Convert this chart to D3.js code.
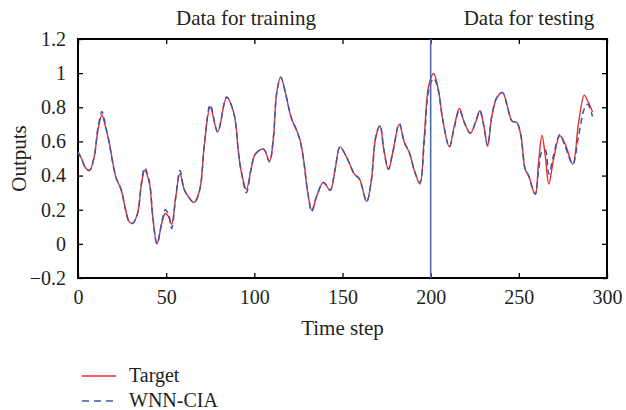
<!DOCTYPE html>
<html>
<head>
<meta charset="utf-8">
<script src="https://cdn.jsdelivr.net/npm/d3@7"></script>
<style>
  body { margin: 0; background: #fff; }
  text { font-family: "Liberation Serif", "Times New Roman", serif; fill: #231f20; }
</style>
</head>
<body>
<div id="chart"></div>
<script>
// time steps, shared by both series
const steps = [0, 2, 4, 6.5, 9, 11.5, 13.6, 15.5, 17.7, 21.5, 24.4, 27, 29, 31, 33.8, 36, 37.8, 40.4, 42.5, 44.8,
  47.6, 49.5, 51.4, 53.1, 55.5, 57.8, 60.2, 63, 65.9, 69.1, 71.6, 75, 79.2, 84.3, 88.5, 91, 92.5, 95.5, 98.2, 100.5,
  105.2, 108.6, 110.9, 112.7, 115, 117.8, 120.9, 124.1, 126, 127.9, 130.3, 132.6, 135.4, 139.2, 143, 145.8, 148.6, 152.4, 156.8, 159.6,
  163.7, 166.2, 169, 171.3, 173.4, 176, 178.5, 182.2, 185.1, 187.9, 190.8, 193.9, 196.4, 198.9, 201.7, 204.3, 206.8, 210.6, 213.4, 216.3,
  219.1, 222.5, 225.7, 227.9, 230, 232.3, 234.7, 237.6, 240.8, 243.2, 246.1, 248.9, 251.2, 253.6, 255.5, 259.3, 261.2, 263.1, 265, 267,
  269.7, 273.3, 276.3, 280.6, 283.9, 287.1, 289, 291.8];

const target = [0.53, 0.50, 0.45, 0.43, 0.50, 0.68, 0.755, 0.69, 0.594, 0.39, 0.32, 0.20, 0.13, 0.12, 0.18, 0.35, 0.43, 0.36, 0.15, 0.00,
  0.125, 0.178, 0.16, 0.115, 0.28, 0.41, 0.32, 0.27, 0.242, 0.32, 0.574, 0.80, 0.656, 0.857, 0.76, 0.535, 0.428, 0.32, 0.44, 0.525,
  0.555, 0.486, 0.633, 0.886, 0.978, 0.877, 0.74, 0.662, 0.603, 0.496, 0.30, 0.197, 0.28, 0.36, 0.314, 0.437, 0.568, 0.506, 0.408, 0.38,
  0.248, 0.36, 0.633, 0.69, 0.555, 0.437, 0.535, 0.70, 0.594, 0.535, 0.428, 0.35, 0.633, 0.926, 0.998, 0.906, 0.73, 0.568, 0.69, 0.793,
  0.71, 0.648, 0.72, 0.78, 0.70, 0.574, 0.75, 0.857, 0.886, 0.818, 0.72, 0.71, 0.633, 0.437, 0.40, 0.29, 0.476, 0.637, 0.515, 0.35,
  0.496, 0.633, 0.584, 0.467, 0.71, 0.871, 0.838, 0.773];

const wnnCia = [0.54, 0.50, 0.45, 0.43, 0.50, 0.69, 0.775, 0.70, 0.59, 0.39, 0.32, 0.20, 0.13, 0.12, 0.18, 0.36, 0.445, 0.37, 0.15, 0.00,
  0.13, 0.20, 0.17, 0.09, 0.28, 0.43, 0.32, 0.27, 0.242, 0.32, 0.574, 0.815, 0.656, 0.86, 0.76, 0.535, 0.428, 0.30, 0.44, 0.525,
  0.555, 0.48, 0.633, 0.886, 0.975, 0.877, 0.74, 0.662, 0.603, 0.496, 0.30, 0.19, 0.28, 0.36, 0.314, 0.437, 0.568, 0.506, 0.408, 0.38,
  0.248, 0.36, 0.633, 0.695, 0.555, 0.437, 0.535, 0.705, 0.594, 0.535, 0.428, 0.36, 0.60, 0.90, 0.97, 0.90, 0.73, 0.568, 0.68, 0.785,
  0.71, 0.648, 0.72, 0.78, 0.70, 0.574, 0.75, 0.86, 0.886, 0.818, 0.72, 0.71, 0.633, 0.437, 0.40, 0.29, 0.43, 0.54, 0.55, 0.41,
  0.52, 0.64, 0.57, 0.467, 0.633, 0.79, 0.818, 0.746];

const xTicks = [0, 50, 100, 150, 200, 250, 300];
const yTicks = [-0.2, 0, 0.2, 0.4, 0.6, 0.8, 1, 1.2];
const splitStep = 200;
const seriesNames = ["Target", "WNN-CIA"];

const W = 626, H = 410;
const margin = { top: 39, right: 19, bottom: 132, left: 78 };
const width = W - margin.left - margin.right;
const height = H - margin.top - margin.bottom;

const svg = d3.select("#chart").append("svg")
  .attr("width", W)
  .attr("height", H);

const g = svg.append("g")
  .attr("transform", `translate(${margin.left},${margin.top})`);

const x = d3.scaleLinear().domain([0, 300]).range([0, width]);
const y = d3.scaleLinear().domain([-0.2, 1.2]).range([height, 0]);

const fmt = d => d === 0 ? "0" : (d < 0 ? "\u22120.2" : (Number.isInteger(d) ? String(d) : d.toFixed(1)));

// ticks pointing inwards on all four sides
g.append("g").attr("transform", `translate(0,${height})`)
  .call(d3.axisBottom(x).tickValues(xTicks).tickSize(-5).tickPadding(12).tickFormat(d3.format("d")));
g.append("g")
  .call(d3.axisTop(x).tickValues(xTicks).tickSize(-5).tickFormat(""));
g.append("g")
  .call(d3.axisLeft(y).tickValues(yTicks).tickSize(-5).tickPadding(12).tickFormat(fmt));
g.append("g").attr("transform", `translate(${width},0)`)
  .call(d3.axisRight(y).tickValues(yTicks).tickSize(-5).tickFormat(""));

g.selectAll(".domain").remove();
g.selectAll(".tick line").attr("stroke", "#000").attr("stroke-width", 1.3);
g.selectAll(".tick text").style("font-size", "20px").attr("fill", "#231f20");

g.append("rect")
  .attr("width", width).attr("height", height)
  .attr("fill", "none").attr("stroke", "#000").attr("stroke-width", 2);

const data = steps.map((s, i) => ({ s, t: target[i], w: wnnCia[i] }));

const lineT = d3.line().x(d => x(d.s)).y(d => y(d.t)).curve(d3.curveCatmullRom.alpha(0.5));
const lineW = d3.line().x(d => x(d.s)).y(d => y(d.w)).curve(d3.curveCatmullRom.alpha(0.5));

g.append("path").datum(data)
  .attr("d", lineT)
  .attr("fill", "none").attr("stroke", "#ee2a2e").attr("stroke-width", 1.4);

g.append("path").datum(data)
  .attr("d", lineW)
  .attr("fill", "none").attr("stroke", "#3b59a8").attr("stroke-width", 1.5)
  .attr("stroke-dasharray", "6,4");

// split between training and testing
g.append("line")
  .attr("x1", x(splitStep)).attr("x2", x(splitStep))
  .attr("y1", 0).attr("y2", height)
  .attr("stroke", "#4f6bab").attr("stroke-width", 1.6);

svg.append("text").attr("x", 246).attr("y", 25).attr("text-anchor", "middle")
  .style("font-size", "21px").text("Data for training");
svg.append("text").attr("x", 529).attr("y", 25).attr("text-anchor", "middle")
  .style("font-size", "21px").text("Data for testing");

svg.append("text").attr("x", margin.left + width / 2).attr("y", 335).attr("text-anchor", "middle")
  .style("font-size", "21px").text("Time step");
svg.append("text")
  .attr("transform", `translate(26,${margin.top + height / 2}) rotate(-90)`)
  .attr("text-anchor", "middle")
  .style("font-size", "21px").text("Outputs");

// legend
const legend = svg.append("g");
const legendRows = [
  { name: seriesNames[0], color: "#ee2a2e", dash: null, y: 376 },
  { name: seriesNames[1], color: "#3b59a8", dash: "7,5", y: 401 }
];
legendRows.forEach(r => {
  legend.append("line")
    .attr("x1", 82).attr("x2", 116).attr("y1", r.y).attr("y2", r.y)
    .attr("stroke", r.color).attr("stroke-width", 1.4)
    .attr("stroke-dasharray", r.dash);
  legend.append("text").attr("x", 129).attr("y", r.y + 6)
    .style("font-size", "20px").text(r.name);
});
</script>
</body>
</html>
